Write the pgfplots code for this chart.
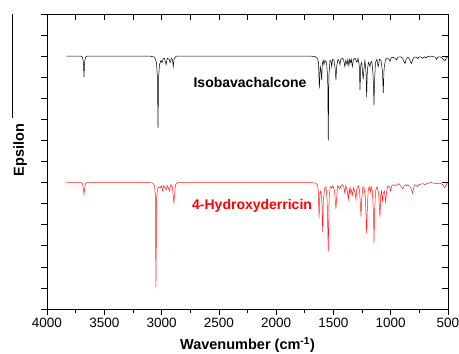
\documentclass[border=0pt]{standalone}
\usepackage{fontspec}
\setmainfont{Liberation Sans}
\usepackage{pgfplots}
\pgfplotsset{compat=1.18}
\begin{document}
\begin{tikzpicture}
\path[use as bounding box] (-47pt,-45pt) rectangle (412pt,309pt);
\begin{axis}[
  at={(0,0)}, anchor=south west,
  scale only axis, width=401pt, height=295pt,
  x dir=reverse, xmin=500, xmax=4000, ymin=0, ymax=14,
  xtick={500,1000,...,4000}, minor xtick={750,1250,...,3750},
  ytick={0,1,...,14}, yticklabels={},
  xtick pos=bottom, ytick pos=left,
  tick align=outside,
  major tick length=5.5pt, minor tick length=4pt,
  every tick/.style={black, line width=0.6pt},
  axis line style={line width=0.8pt},
  /pgf/number format/assume math mode=true,
  /pgf/number format/set thousands separator={},
  tick label style={font=\fontsize{13.5}{15}\selectfont},
  xticklabel style={yshift=-0.5pt},
  xlabel={\textbf{Wavenumber (cm\textsuperscript{-1})}},
  xlabel style={font=\fontsize{14.5}{16}\selectfont, at={(axis description cs:0.5,-0.122)}, anchor=center},
  ylabel={\textbf{Epsilon}},
  ylabel style={font=\fontsize{14.5}{16}\selectfont, at={(axis description cs:-0.067,0.539)}, anchor=center, rotate=0},
  clip=false,
]
\addplot[black, line width=0.5pt] coordinates {
(3830,12) (3700,12) (3690,11.95) (3682,11.7) (3677,11.0) (3672,11.7) (3664,11.95) (3650,12)
(3100,12) (3060,11.95) (3045,11.7) (3036,11.0) (3031,8.6) (3026,11.0) (3018,11.6) (3005,11.8)
(2995,11.7) (2985,11.9) (2975,11.9) (2960,11.6) (2950,11.9) (2935,11.85) (2925,11.7) (2915,11.9)
(2905,11.85) (2898,11.5) (2890,11.9) (2870,12)
(1700,12) (1660,11.98) (1640,11.9) (1630,11.7) (1623,10.47) (1615,11.5) (1608,11.3) (1602,10.86)
(1597,11.6) (1590,11.8) (1582,11.6) (1575,11.8) (1560,11.7) (1550,11.0) (1545,8.0) (1540,11.0)
(1530,11.8) (1520,11.75) (1515,11.5) (1508,11.85) (1495,11.8) (1485,11.4) (1478,10.86) (1472,11.5)
(1460,11.85) (1450,11.75) (1443,11.6) (1436,11.85) (1420,11.9) (1410,11.8) (1400,11.5) (1392,11.8)
(1380,11.6) (1374,11.85) (1365,11.55) (1358,11.85) (1350,11.7) (1344,11.85) (1335,11.5) (1325,11.85)
(1310,11.9) (1295,11.7) (1285,11.9) (1275,11.6) (1268,10.4) (1261,11.6) (1252,11.7) (1245,11.2)
(1240,10.9) (1233,11.4) (1225,11.8) (1216,11.3) (1210,10.07) (1204,11.3) (1195,11.7) (1186,11.6)
(1181,11.5) (1175,11.7) (1165,11.75) (1155,11.2) (1150,10.5) (1146,9.68) (1141,10.8) (1133,11.7)
(1120,11.85) (1110,11.5) (1105,11.6) (1098,11.85) (1085,11.8) (1072,11.3) (1065,10.26) (1058,11.4)
(1045,11.85) (1030,11.9) (1015,11.85) (1006,11.75) (998,11.9) (985,11.95) (960,11.9) (948,11.82)
(938,11.95) (915,11.97) (895,11.9) (885,11.75) (875,11.65) (865,11.85) (850,11.95) (835,11.85)
(825,11.7) (817,11.65) (808,11.85) (795,11.95) (775,11.95) (762,11.88) (752,11.97) (735,11.95)
(720,11.9) (705,11.97) (690,11.92) (680,11.98) (650,12) (610,11.95) (600,11.85) (590,11.95)
(570,11.97) (550,11.9) (535,11.82) (526,11.78) (515,11.9) (505,11.95) (500,12)
};
\addplot[red!90!white, line width=0.5pt] coordinates {
(3830,6) (3700,6) (3690,5.95) (3682,5.7) (3677,5.42) (3672,5.7) (3664,5.95) (3650,6)
(3100,6) (3075,5.97) (3062,5.85) (3055,5.5) (3049,1.04) (3043,5.3) (3035,5.7) (3025,5.8)
(3010,5.75) (3000,5.85) (2990,5.6) (2983,5.85) (2970,5.8) (2960,5.65) (2950,5.85) (2940,5.75)
(2930,5.6) (2920,5.9) (2905,5.8) (2897,5.3) (2892,5.0) (2887,5.4) (2878,5.9) (2860,6)
(1700,6) (1660,5.98) (1640,5.9) (1632,5.6) (1625,4.31) (1618,5.5) (1610,5.6) (1600,5.0)
(1594,3.65) (1588,5.1) (1578,5.7) (1565,5.8) (1555,5.2) (1545,2.73) (1538,5.2) (1528,5.8)
(1515,5.75) (1505,5.85) (1490,5.6) (1482,5.0) (1478,4.75) (1473,5.2) (1463,5.85) (1450,5.75)
(1443,5.7) (1435,5.85) (1420,5.9) (1410,5.8) (1400,5.5) (1393,5.85) (1380,5.65) (1370,5.2)
(1362,5.7) (1355,5.45) (1348,5.75) (1335,5.4) (1325,5.75) (1310,5.5) (1303,5.2) (1296,5.7)
(1283,5.85) (1272,5.6) (1265,5.0) (1259,4.39) (1253,5.2) (1243,5.8) (1232,5.75) (1220,5.2)
(1210,3.6) (1203,5.0) (1195,5.7) (1185,5.8) (1178,5.55) (1170,5.8) (1160,5.6) (1150,4.5)
(1146,3.13) (1140,4.7) (1132,5.6) (1120,5.8) (1105,5.5) (1094,4.36) (1087,5.4) (1080,5.6)
(1071,5.1) (1065,5.5) (1055,5.6) (1044,5.07) (1037,5.5) (1025,5.85) (1010,5.8) (1000,5.6)
(992,5.85) (975,5.9) (960,5.85) (945,5.9) (930,5.95) (915,5.85) (900,5.75) (893,5.7)
(885,5.85) (870,5.9) (860,5.85) (850,5.9) (830,5.8) (815,5.6) (808,5.5) (800,5.75)
(790,5.9) (775,5.85) (765,5.8) (755,5.9) (740,5.92) (720,5.95) (700,5.9) (685,5.95)
(650,6) (620,5.97) (600,5.95) (570,5.97) (545,5.9) (535,5.8) (528,5.75) (520,5.85)
(510,5.95) (500,6)
};
\node[font=\fontsize{14}{16}\selectfont\bfseries, black] at (axis cs:2228,10.74) {Isobavachalcone};
\node[font=\fontsize{14}{16}\selectfont\bfseries, red] at (axis cs:2210,4.9) {4-Hydroxyderricin};
\draw[line width=0.7pt] (axis description cs:-0.087,1) -- (axis description cs:-0.087,0.647);
\end{axis}
\begin{axis}[
  at={(0,0)}, anchor=south west,
  scale only axis, width=401pt, height=295pt,
  x dir=reverse, xmin=500, xmax=4000, ymin=0, ymax=14,
  xtick={500,750,...,4000}, ytick={0,1,...,14},
  xticklabels={}, yticklabels={},
  xtick pos=top, ytick pos=right,
  tick align=inside,
  major tick length=5.5pt,
  every tick/.style={black, line width=0.6pt},
  axis line style={line width=0.8pt},
]
\end{axis}
\end{tikzpicture}
\end{document}
